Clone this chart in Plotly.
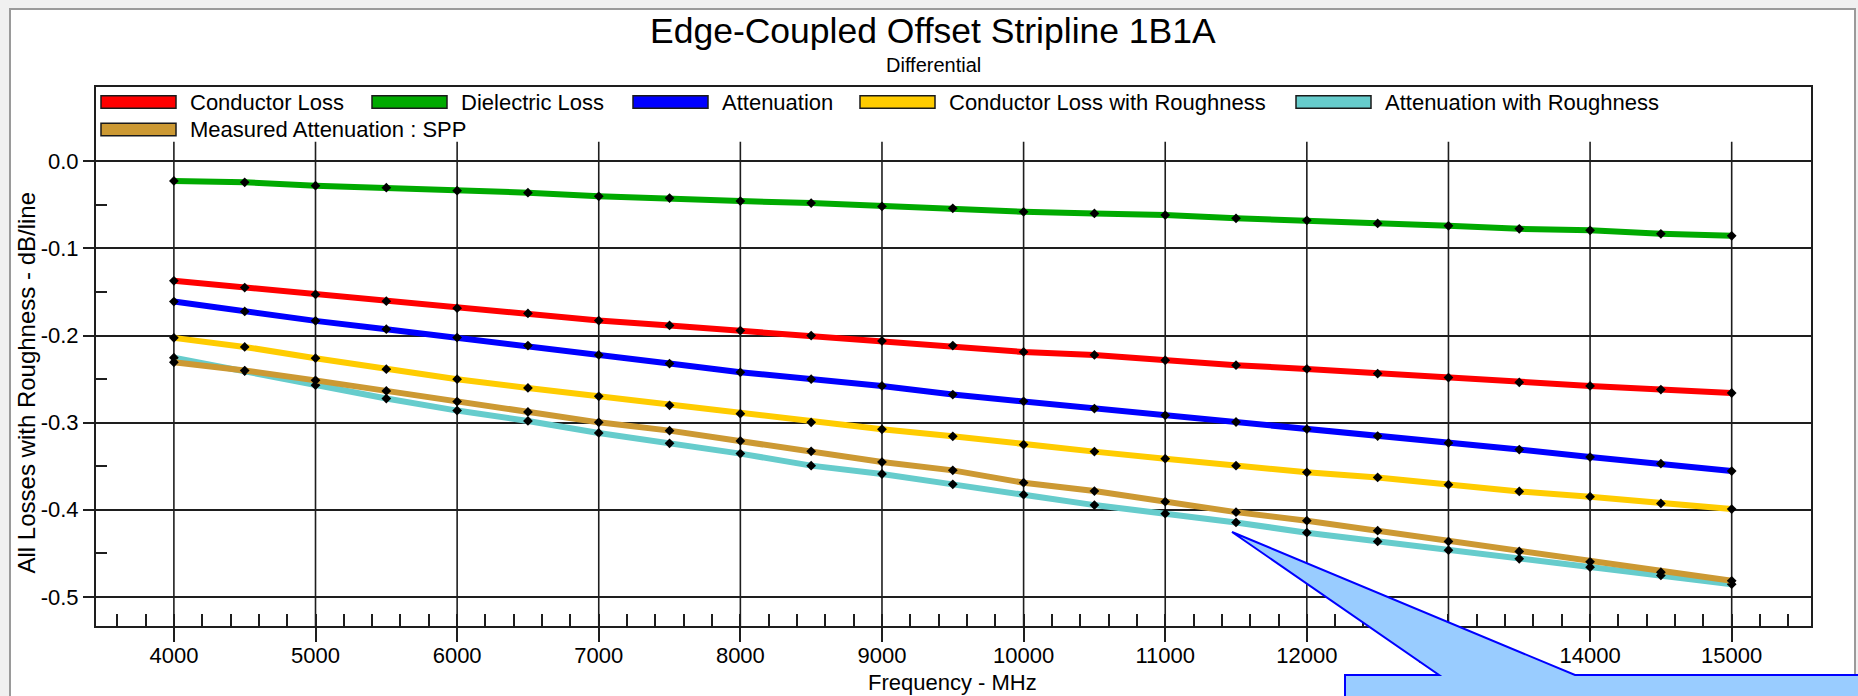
import plotly.graph_objects as go

# ---------------- data ----------------
freq_mhz = [4000, 4500, 5000, 5500, 6000, 6500, 7000, 7500, 8000, 8500, 9000, 9500,
            10000, 10500, 11000, 11500, 12000, 12500, 13000, 13500, 14000, 14500, 15000]

conductor_loss = [-0.1372, -0.1449, -0.1529, -0.1606, -0.1686, -0.1747, -0.1828, -0.1885,
                  -0.1943, -0.2000, -0.2062, -0.2115, -0.2189, -0.2223, -0.2284, -0.2341,
                  -0.2384, -0.2437, -0.2483, -0.2537, -0.2579, -0.2621, -0.2660]

dielectric_loss = [-0.0226, -0.0241, -0.0280, -0.0303, -0.0338, -0.0360, -0.0402, -0.0422,
                   -0.0456, -0.0480, -0.0518, -0.0540, -0.0580, -0.0598, -0.0617, -0.0655,
                   -0.0678, -0.0713, -0.0740, -0.0775, -0.0793, -0.0832, -0.0855]

attenuation = [-0.1610, -0.1724, -0.1832, -0.1928, -0.2023, -0.2115, -0.2223, -0.2322,
               -0.2422, -0.2502, -0.2579, -0.2678, -0.2755, -0.2839, -0.2916, -0.2993,
               -0.3074, -0.3154, -0.3234, -0.3310, -0.3395, -0.3471, -0.3556]

conductor_loss_roughness = [-0.2027, -0.2131, -0.2261, -0.2387, -0.2502, -0.2602, -0.2698,
                            -0.2801, -0.2897, -0.2997, -0.3077, -0.3157, -0.3253, -0.3333,
                            -0.3414, -0.3494, -0.3571, -0.3629, -0.3713, -0.3790, -0.3851,
                            -0.3928, -0.3993]

attenuation_roughness = [-0.2255, -0.2410, -0.2570, -0.2724, -0.2862, -0.2981, -0.3119,
                         -0.3238, -0.3356, -0.3494, -0.3590, -0.3709, -0.3828, -0.3947,
                         -0.4046, -0.4146, -0.4264, -0.4364, -0.4464, -0.4563, -0.4660,
                         -0.4755, -0.4855]

measured_attenuation = [-0.2307, -0.2402, -0.2515, -0.2637, -0.2759, -0.2878, -0.2997,
                        -0.3092, -0.3211, -0.3330, -0.3453, -0.3548, -0.3690, -0.3786,
                        -0.3908, -0.4028, -0.4126, -0.4241, -0.4364, -0.4479, -0.4598,
                        -0.4717, -0.4816]

series_names = ["Conductor Loss", "Dielectric Loss", "Attenuation",
                "Conductor Loss with Roughness", "Attenuation with Roughness",
                "Measured Attenuation : SPP"]

x_tick_values = [4000, 5000, 6000, 7000, 8000, 9000, 10000, 11000, 12000, 13000, 14000, 15000]
x_tick_labels = ["4000", "5000", "6000", "7000", "8000", "9000", "10000", "11000",
                 "12000", "13000", "14000", "15000"]
y_tick_values = [0.0, -0.1, -0.2, -0.3, -0.4, -0.5]
y_tick_labels = ["0.0", "-0.1", "-0.2", "-0.3", "-0.4", "-0.5"]
y_minor_values = [-0.05, -0.15, -0.25, -0.35, -0.45]

chart_title = "Edge-Coupled Offset Stripline 1B1A"
chart_subtitle = "Differential"
x_title = "Frequency - MHz"
y_title = "All Losses with Roughness - dB/line"

# ---------------- styles / layout ----------------
series_values = [conductor_loss, dielectric_loss, attenuation,
                 conductor_loss_roughness, attenuation_roughness, measured_attenuation]
series_colors = ["#FF0000", "#00AA00", "#0000FF", "#FFCC00", "#66CCCC", "#CC9933"]

W, H = 1858, 696
PL, PR, PT, PB = 96, 1811, 87, 626   # plot area in pixels
X_RANGE = [3450, 15560]
Y_RANGE = [-0.5335, 0.0853]
GRID_TOP = 0.0225                     # vertical gridlines stop below the legend
FONT = "Liberation Sans, Arial, sans-serif"
GRID_COLOR = "#1e1e1e"


def px(x):
    return (x - PL) / (PR - PL)


def py(y):
    return (PB - y) / (PB - PT)


fig = go.Figure()

for name, vals, col in zip(series_names, series_values, series_colors):
    fig.add_trace(go.Scatter(
        x=freq_mhz, y=vals, name=name, mode="lines+markers",
        line=dict(color=col, width=6),
        marker=dict(symbol="diamond", size=7.5, color="black"),
        showlegend=False,
    ))

shapes = []
# outer window frame
shapes.append(dict(type="rect", xref="paper", yref="paper",
                   x0=px(10), x1=px(1855), y0=py(730), y1=py(9),
                   fillcolor="white", line=dict(color="#9a9a9a", width=2), layer="below"))
# vertical gridlines (only below the legend band)
for xv in x_tick_values:
    shapes.append(dict(type="line", xref="x", yref="y", x0=xv, x1=xv,
                       y0=Y_RANGE[0], y1=GRID_TOP,
                       line=dict(color=GRID_COLOR, width=1.6), layer="below"))

# legend (swatches + texts)
legend_items_px = [(101, 102), (372, 102), (633, 102), (860, 102), (1296, 102), (101, 129.5)]
SW_W, SW_H = 75, 12.6
annotations = []
for (lx, ly), name, col in zip(legend_items_px, series_names, series_colors):
    shapes.append(dict(type="rect", xref="paper", yref="paper",
                       x0=px(lx), x1=px(lx + SW_W), y0=py(ly + SW_H / 2), y1=py(ly - SW_H / 2),
                       fillcolor=col, line=dict(color="#1a1a1a", width=1.5), layer="above"))
    annotations.append(dict(xref="paper", yref="paper", x=px(lx + SW_W + 12), y=py(ly),
                            xanchor="left", yanchor="middle", showarrow=False,
                            text=name, font=dict(family=FONT, size=22, color="black")))

# callout balloon
tip = (1232, 532)
pts = [tip, (1439, 675), (1345, 675), (1345, 740), (1900, 740), (1900, 675), (1575, 675)]
path = "M " + " L ".join(f"{px(a):.5f},{py(b):.5f}" for a, b in pts) + " Z"
shapes.append(dict(type="path", xref="paper", yref="paper", path=path,
                   fillcolor="#99CCFF", line=dict(color="#0000FF", width=2), layer="above"))

# titles
annotations.append(dict(xref="paper", yref="paper", x=px(933), y=py(31), xanchor="center",
                        yanchor="middle", showarrow=False, text=chart_title,
                        font=dict(family=FONT, size=35.5, color="black")))
annotations.append(dict(xref="paper", yref="paper", x=px(933), y=py(65), xanchor="center",
                        yanchor="middle", showarrow=False, text=chart_subtitle,
                        font=dict(family=FONT, size=20, color="black")))
annotations.append(dict(xref="paper", yref="paper", x=px(952), y=py(682), xanchor="center",
                        yanchor="middle", showarrow=False, text=x_title,
                        font=dict(family=FONT, size=22, color="black")))
annotations.append(dict(xref="paper", yref="paper", x=px(25.5), y=py(383), xanchor="center",
                        yanchor="middle", showarrow=False, text=y_title, textangle=-90,
                        font=dict(family=FONT, size=24, color="black")))

fig.update_layout(
    width=W, height=H, autosize=False,
    margin=dict(l=PL, r=W - PR, t=PT, b=H - PB, pad=0),
    paper_bgcolor="#F0F0F0", plot_bgcolor="white",
    shapes=shapes, annotations=annotations, showlegend=False,
    font=dict(family=FONT, size=22, color="black"),
)

fig.update_xaxes(
    range=X_RANGE, tickmode="array", tickvals=x_tick_values, ticktext=x_tick_labels,
    showgrid=False, zeroline=False,
    showline=True, mirror=True, linecolor="#1e1e1e", linewidth=2,
    ticks="outside", ticklen=14, tickwidth=1.6, tickcolor=GRID_COLOR,
    ticklabelstandoff=-5,
    tickfont=dict(family=FONT, size=22, color="black"),
    minor=dict(tickmode="linear", tick0=0, dtick=200, ticks="inside", ticklen=12,
               tickwidth=1.6, tickcolor=GRID_COLOR, showgrid=False),
)
fig.update_yaxes(
    range=Y_RANGE, tickmode="array", tickvals=y_tick_values, ticktext=y_tick_labels,
    showgrid=True, gridcolor=GRID_COLOR, gridwidth=1.6, zeroline=False,
    showline=True, mirror=True, linecolor="#1e1e1e", linewidth=2,
    ticks="outside", ticklen=11, tickwidth=1.6, tickcolor=GRID_COLOR,
    tickfont=dict(family=FONT, size=22, color="black"),
    minor=dict(tickmode="array", tickvals=y_minor_values, ticks="inside", ticklen=11,
               tickwidth=1.6, tickcolor=GRID_COLOR, showgrid=False),
)

fig.write_html(
    "out.html",
    config={"displayModeBar": False},
    post_script="document.body.style.margin='0';document.body.style.overflow='hidden';",
)
